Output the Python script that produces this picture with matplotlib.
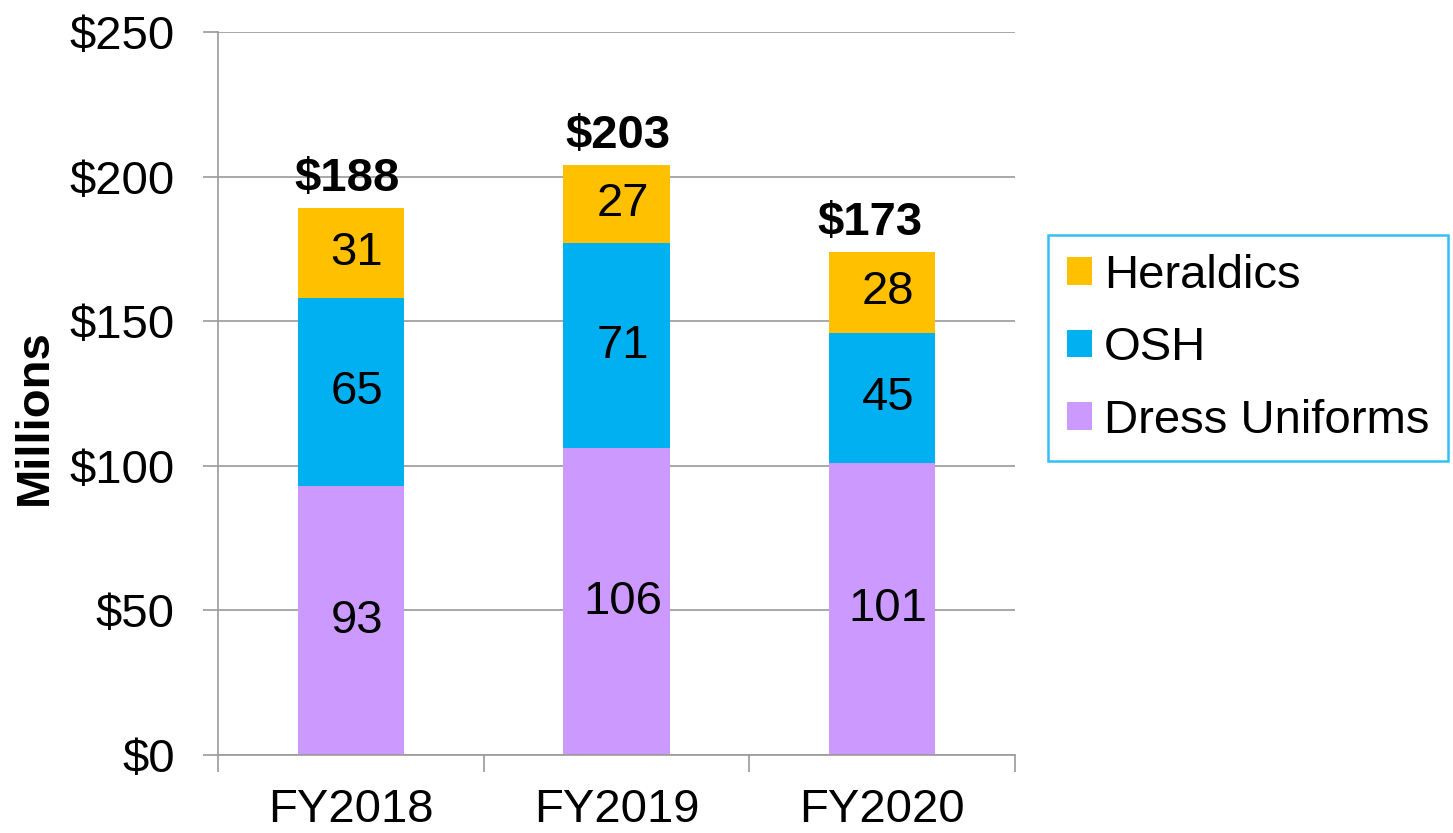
import matplotlib.pyplot as plt
import numpy as np

plt.rcParams['font.family'] = ['Liberation Sans', 'DejaVu Sans']

# data
years = ['FY2018', 'FY2019', 'FY2020']
dress = [93, 106, 101]
osh = [65, 71, 45]
heraldics = [31, 27, 28]
totals = ['$188', '$203', '$173']
y_ticks = [0, 50, 100, 150, 200, 250]
y_labels = ['$0', '$50', '$100', '$150', '$200', '$250']

W, H = 1453, 833
fig = plt.figure(figsize=(W / 100, H / 100), dpi=100)
ax = fig.add_axes([218 / W, 1 - 755 / H, (1015 - 218) / W, (755 - 32) / H])

x = np.arange(len(years))
w = 0.4
dress = np.array(dress)
osh = np.array(osh)
heraldics = np.array(heraldics)

ax.bar(x, dress, w, color='#CC99FF', label='Dress Uniforms', zorder=2)
ax.bar(x, osh, w, bottom=dress, color='#00B0F0', label='OSH', zorder=2)
ax.bar(x, heraldics, w, bottom=dress + osh, color='#FFC000', label='Heraldics', zorder=2)

# segment labels sit a bit right of centre, totals a bit left (as in the original)
lab_dx = 0.023
tot_dx = [-0.015, 0.005, -0.045]
fs = 34
for i in range(len(years)):
    ax.text(x[i] + lab_dx, dress[i] / 2, str(dress[i]), ha='center', va='center', fontsize=fs, zorder=3)
    ax.text(x[i] + lab_dx, dress[i] + osh[i] / 2, str(osh[i]), ha='center', va='center', fontsize=fs, zorder=3)
    ax.text(x[i] + lab_dx, dress[i] + osh[i] + heraldics[i] / 2, str(heraldics[i]),
            ha='center', va='center', fontsize=fs, zorder=3)
    ax.text(x[i] + tot_dx[i], dress[i] + osh[i] + heraldics[i] + 2.5, totals[i], ha='center', va='bottom',
            fontsize=fs, fontweight='bold', zorder=3)

ax.set_xlim(-0.5, 2.5)
ax.set_ylim(0, 250)
ax.set_yticks(y_ticks)
ax.set_yticklabels(y_labels, fontsize=fs)
ax.set_xticks(x)
ax.set_xticklabels(years, fontsize=fs)
ax.tick_params(axis='x', length=0, pad=24)
ax.tick_params(axis='y', length=11, width=1.2, color='#999999', pad=20)
ax.set_xticks([-0.5, 0.5, 1.5, 2.5], minor=True)
ax.tick_params(axis='x', which='minor', length=12, width=1.2, color='#999999')

ax.yaxis.grid(True, color='#999999', linewidth=1.2, zorder=0)
ax.set_axisbelow(True)
for s in ['top', 'right']:
    ax.spines[s].set_visible(False)
for s in ['left', 'bottom']:
    ax.spines[s].set_color('#999999')
    ax.spines[s].set_linewidth(1.2)

fig.text(35 / W, 1 - 417 / H, 'Millions', rotation=90, ha='center', va='center',
         fontsize=34, fontweight='bold')

handles, labels = ax.get_legend_handles_labels()
leg = fig.legend(handles[::-1], labels[::-1], loc='upper left', bbox_to_anchor=(1048 / W, 1 - 235 / H),
                 fontsize=34, frameon=True, fancybox=False, handlelength=0.53, handleheight=0.53,
                 handletextpad=0.25, labelspacing=0.6, borderpad=0.4, borderaxespad=0)
leg.get_frame().set_edgecolor('#00B0F0')
leg.get_frame().set_linewidth(1.8)

fig.savefig('out.png', dpi=100)
